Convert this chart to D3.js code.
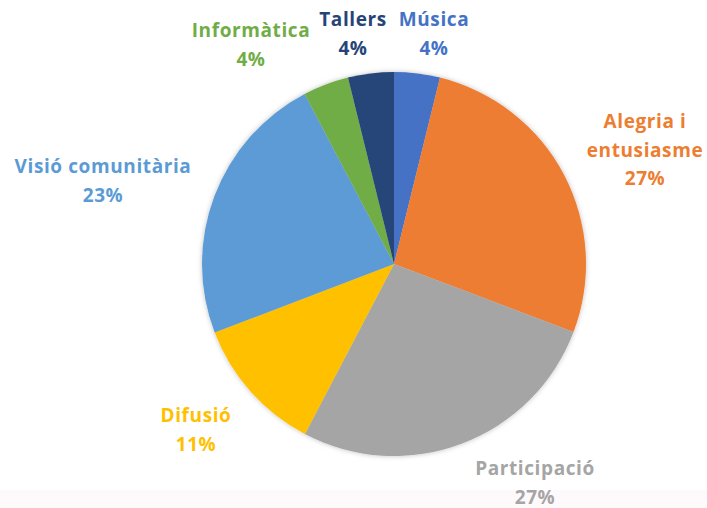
<!DOCTYPE html>
<html>
<head>
<meta charset="utf-8">
<script src="https://cdn.jsdelivr.net/npm/d3@7"></script>
<style>
  html, body { margin: 0; padding: 0; background: #fff; }
  svg { display: block; }
  text { font-family: "Open Sans", Lato, sans-serif; font-weight: 700; letter-spacing: 0.6px; }
</style>
</head>
<body>
<div id="chart"></div>
<script>
// categories, clockwise from 12 o'clock
var categories = ["Música", "Alegria i entusiasme", "Participació", "Difusió", "Visió comunitària", "Informàtica", "Tallers"];
// share of each slice
var values = [3.85, 26.9, 26.9, 11.5, 23.1, 3.85, 3.85];
// percentage labels as printed on the chart
var pctLabels = ["4%", "27%", "27%", "11%", "23%", "4%", "4%"];
// how each category name is broken into lines
var nameLines = [["Música"], ["Alegria i", "entusiasme"], ["Participació"], ["Difusió"], ["Visió comunitària"], ["Informàtica"], ["Tallers"]];

var colors = ["#4472C4", "#ED7D31", "#A5A5A5", "#FFC000", "#5B9BD5", "#70AD47", "#264478"];
// label block: centre x, first baseline y
var labelPos = [[434, 26], [645, 128], [535, 475], [196, 422], [103, 173], [251, 37], [353, 26]];

var width = 707, height = 508;
var cx = 394, cy = 264, radius = 192;
var lineH = 28.5;

var svg = d3.select("#chart")
  .append("svg")
  .attr("width", width)
  .attr("height", height);

// faint pink strip at the bottom edge of the screenshot
svg.append("rect")
  .attr("x", 0).attr("y", 490)
  .attr("width", width).attr("height", height - 490)
  .attr("fill", "#fefafc");

var defs = svg.append("defs");
var f = defs.append("filter").attr("id", "soft")
  .attr("x", "-10%").attr("y", "-10%").attr("width", "120%").attr("height", "120%");
f.append("feDropShadow")
  .attr("dx", 0).attr("dy", 0)
  .attr("stdDeviation", 2.5)
  .attr("flood-color", "#000")
  .attr("flood-opacity", 0.25);

var color = d3.scaleOrdinal().domain(categories).range(colors);

var pie = d3.pie()
  .sort(null)
  .value(function(d) { return d.value; });

var data = categories.map(function(c, i) {
  return { name: c, value: values[i], pct: pctLabels[i], lines: nameLines[i], pos: labelPos[i] };
});

var arc = d3.arc().innerRadius(0).outerRadius(radius);

var g = svg.append("g")
  .attr("transform", "translate(" + cx + "," + cy + ")")
  .attr("filter", "url(#soft)");

g.selectAll("path")
  .data(pie(data))
  .enter()
  .append("path")
  .attr("d", arc)
  .attr("fill", function(d) { return color(d.data.name); });

var labels = svg.append("g")
  .selectAll("text")
  .data(data)
  .enter()
  .append("text")
  .attr("text-anchor", "middle")
  .style("font-size", "19px")
  .attr("fill", function(d) { return color(d.name); });

labels.each(function(d) {
  var t = d3.select(this);
  var all = d.lines.concat([d.pct]);
  all.forEach(function(s, k) {
    t.append("tspan")
      .attr("x", d.pos[0])
      .attr("y", d.pos[1] + k * lineH)
      .text(s);
  });
});
</script>
</body>
</html>
